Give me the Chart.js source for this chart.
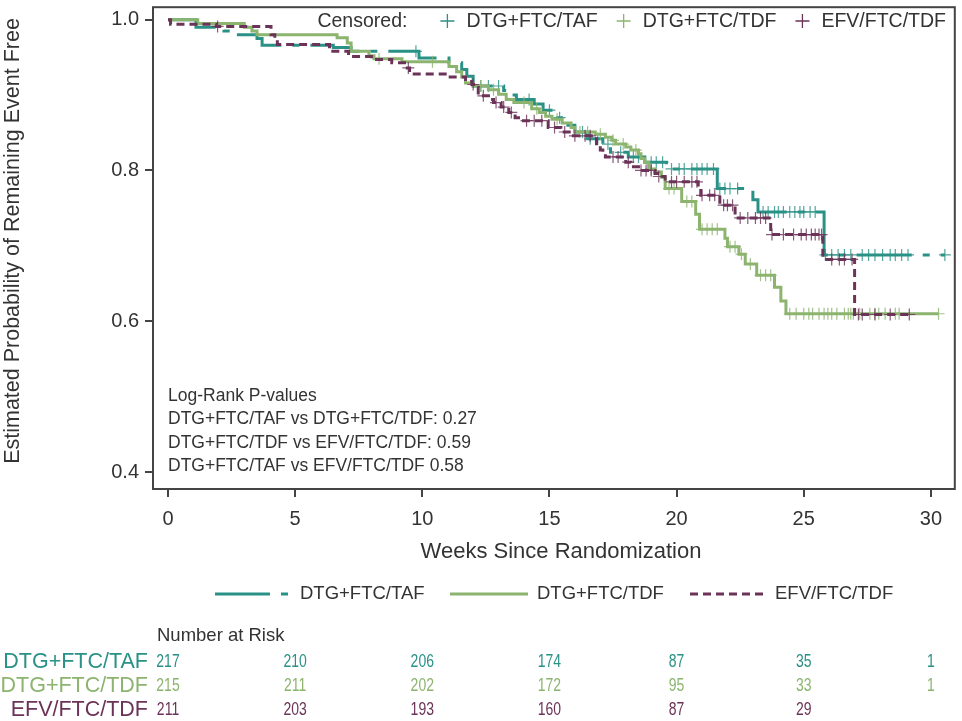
<!DOCTYPE html>
<html>
<head>
<meta charset="utf-8">
<script src="https://cdn.jsdelivr.net/npm/chart.js@4.4.0/dist/chart.umd.min.js"></script>
<style>
  html, body { margin: 0; padding: 0; background: #fff; }
  #wrap { width: 962px; height: 721px; position: relative; }
</style>
</head>
<body>
<div id="wrap"><canvas id="km"></canvas></div>
<script>
// groups + colours
const groups = ["DTG+FTC/TAF", "DTG+FTC/TDF", "EFV/FTC/TDF"];
const colors = ["#2a9186", "#8cb46f", "#6c3358"];

const weekTicks = [0, 5, 10, 15, 20, 25, 30];
const probTicks = [0.4, 0.6, 0.8, 1.0];

// KM steps (week, survival after the event)
const tafTimes = [0, 1.1, 2.2, 2.7, 3.5, 3.7, 6.5, 7.2, 9.87, 11.05, 11.55, 11.75, 12.0, 13.2, 13.5, 13.7, 14.4, 14.75, 15.15, 15.6, 16.0, 16.5, 17.1, 17.4, 18.1, 18.75, 19.6, 21.6, 23.0, 23.2, 25.8, 30.55];
const tafSurv  = [1.0, 0.990, 0.985, 0.980, 0.975, 0.966, 0.963, 0.958, 0.949, 0.943, 0.934, 0.925, 0.912, 0.906, 0.900, 0.894, 0.888, 0.880, 0.870, 0.860, 0.851, 0.842, 0.835, 0.824, 0.818, 0.811, 0.802, 0.776, 0.761, 0.745, 0.688, 0.688];

const tdfTimes = [0, 1.17, 3.0, 3.3, 3.5, 6.65, 7.05, 7.2, 7.9, 8.1, 9.2, 11.05, 11.35, 11.55, 11.7, 12.0, 12.6, 13.0, 13.3, 13.6, 14.3, 14.6, 14.85, 15.1, 15.5, 15.85, 16.0, 16.8, 17.2, 17.45, 17.6, 18.0, 18.2, 18.5, 18.6, 18.75, 18.9, 19.15, 19.4, 19.55, 20.2, 20.75, 20.9, 21.9, 22.0, 22.45, 22.7, 23.15, 23.85, 24.1, 24.3, 30.3];
const tdfSurv  = [1.0, 0.995, 0.990, 0.985, 0.980, 0.976, 0.969, 0.958, 0.952, 0.948, 0.944, 0.938, 0.931, 0.924, 0.916, 0.912, 0.907, 0.901, 0.894, 0.890, 0.882, 0.877, 0.872, 0.868, 0.863, 0.857, 0.851, 0.848, 0.844, 0.840, 0.835, 0.831, 0.827, 0.822, 0.816, 0.811, 0.802, 0.798, 0.791, 0.776, 0.759, 0.742, 0.722, 0.710, 0.699, 0.689, 0.676, 0.661, 0.645, 0.627, 0.610, 0.610];

const efvTimes = [0, 0.1, 1.9, 4.05, 4.2, 4.3, 6.35, 7.1, 8.0, 8.8, 9.3, 9.5, 10.9, 11.7, 11.95, 12.1, 12.2, 12.6, 12.8, 13.1, 13.4, 13.65, 13.9, 14.95, 15.45, 15.85, 16.85, 17.0, 17.1, 17.2, 18.0, 18.2, 18.5, 19.15, 19.25, 19.55, 20.85, 20.95, 21.7, 22.3, 23.7, 25.75, 27.0, 29.2];
const efvSurv  = [1.0, 0.994, 0.991, 0.980, 0.973, 0.967, 0.958, 0.951, 0.947, 0.943, 0.936, 0.928, 0.924, 0.918, 0.914, 0.910, 0.899, 0.894, 0.890, 0.884, 0.877, 0.870, 0.866, 0.857, 0.851, 0.846, 0.833, 0.827, 0.822, 0.818, 0.811, 0.805, 0.800, 0.796, 0.792, 0.785, 0.776, 0.767, 0.754, 0.737, 0.715, 0.682, 0.609, 0.609];

// censoring times (weeks)
const tafCens = [9.75, 12.3, 12.6, 13.0, 14.2, 15.0, 15.4, 16.3, 16.6, 16.9, 17.3, 17.8, 18.3, 18.5, 19.0, 19.2, 19.45, 19.8, 20.1, 20.3, 20.6, 20.8, 21.0, 21.2, 21.45, 21.7, 21.9, 22.1, 22.4, 23.4, 23.6, 23.85, 24.0, 24.2, 24.45, 24.65, 24.85, 25.0, 25.25, 25.45, 25.85, 26.1, 26.35, 26.6, 26.85, 27.3, 27.55, 27.8, 28.1, 28.4, 28.6, 28.85, 29.1, 30.55];
const tdfCens = [8.3, 10.4, 12.3, 12.8, 14.0, 14.5, 15.3, 16.2, 16.5, 17.0, 17.5, 17.9, 18.4, 19.0, 19.7, 19.9, 20.4, 20.6, 21.0, 21.2, 21.4, 21.6, 22.1, 22.3, 22.55, 22.9, 23.3, 23.5, 23.7, 24.45, 24.7, 25.0, 25.2, 25.35, 25.6, 25.8, 25.95, 26.1, 26.3, 26.6, 26.75, 26.85, 26.95, 27.2, 27.6, 27.8, 27.95, 28.2, 28.6, 28.75, 30.3];
const efvCens = [1.95, 9.45, 12.0, 12.4, 12.9, 13.2, 13.5, 14.1, 14.4, 14.7, 15.2, 15.6, 16.0, 16.4, 16.6, 17.5, 17.7, 18.1, 18.6, 18.8, 19.0, 19.3, 19.8, 20.0, 20.3, 20.6, 20.8, 21.0, 21.3, 21.5, 21.85, 22.0, 22.2, 22.5, 22.8, 23.1, 23.3, 23.5, 23.75, 24.2, 24.6, 24.9, 25.1, 25.3, 25.45, 25.6, 25.7, 26.1, 26.4, 26.6, 26.9, 27.15, 27.3, 27.8, 28.4, 29.15];

// number at risk at weekTicks
const riskTAF = [217, 210, 206, 174, 87, 35, 1];
const riskTDF = [215, 211, 202, 172, 95, 33, 1];
const riskEFV = [211, 203, 193, 160, 87, 29, null];

const logRankLines = [
  "Log-Rank P-values",
  "DTG+FTC/TAF vs DTG+FTC/TDF: 0.27",
  "DTG+FTC/TDF vs EFV/FTC/TDF: 0.59",
  "DTG+FTC/TAF vs EFV/FTC/TDF 0.58"
];

const FONT = "'Liberation Sans', Arial, sans-serif";
const TXT = "#333";
const dashes = [[55, 11, 7, 11], [], [8, 5]];

function stepAt(times, surv, t) {
  let v = surv[0];
  for (let i = 0; i < times.length; i++) if (times[i] <= t) v = surv[i];
  return v;
}

const series = [
  { times: tafTimes, surv: tafSurv, cens: tafCens },
  { times: tdfTimes, surv: tdfSurv, cens: tdfCens },
  { times: efvTimes, surv: efvSurv, cens: efvCens }
];
const drawOrder = [2, 1, 0]; // lower order = on top

const datasets = [];
series.forEach((s, i) => {
  datasets.push({
    type: "line",
    label: groups[i],
    data: s.times.map((t, k) => ({ x: t, y: s.surv[k] })),
    borderColor: colors[i],
    borderWidth: 3,
    borderDash: dashes[i],
    stepped: true,
    pointRadius: 0,
    fill: false,
    order: drawOrder[i]
  });
  datasets.push({
    type: "scatter",
    label: groups[i] + " censored",
    data: s.cens.map(t => ({ x: t, y: stepAt(s.times, s.surv, t) })),
    pointStyle: "cross",
    pointRadius: 6,
    borderWidth: 1.2,
    borderColor: colors[i] + "d0",
    backgroundColor: colors[i],
    order: drawOrder[i]
  });
});

const decor = {
  id: "decor",
  beforeDraw(chart) {
    const c = chart.ctx;
    c.save(); c.fillStyle = "#fff"; c.fillRect(0, 0, chart.width, chart.height); c.restore();
  },
  afterDraw(chart) {
    const c = chart.ctx, a = chart.chartArea, xs = chart.scales.x;
    c.save();
    // frame
    c.strokeStyle = "#444"; c.lineWidth = 2;
    c.strokeRect(a.left, a.top, a.right - a.left, a.bottom - a.top);

    // axis titles (drawn by hand so they sit where the original does)
    c.font = "22px " + FONT; c.fillStyle = TXT; c.textAlign = "center"; c.textBaseline = "middle";
    c.fillText("Weeks Since Randomization", 561, 552);
    c.save();
    c.translate(13, 241); c.rotate(-Math.PI / 2);
    c.font = "21.5px " + FONT;
    c.fillText("Estimated Probability of Remaining Event Free", 0, 0);
    c.restore();

    // censored legend (inside plot, top) - laid out from the right edge
    c.font = "19.5px " + FONT; c.textAlign = "left";
    let x = 946;
    const plusX = [];
    for (let i = 2; i >= 0; i--) {
      const w = c.measureText(groups[i]).width;
      x -= w;
      c.fillStyle = TXT; c.fillText(groups[i], x, 22);
      plusX[i] = x - 19;
      x -= 19 + 26;
    }
    plusX.forEach((px, i) => {
      c.strokeStyle = colors[i]; c.lineWidth = 1.3;
      c.beginPath(); c.moveTo(px - 7, 21); c.lineTo(px + 7, 21); c.moveTo(px, 14); c.lineTo(px, 28); c.stroke();
    });
    c.fillStyle = TXT; c.textAlign = "right";
    c.fillText("Censored:", plusX[0] - 40, 22);
    c.textAlign = "left";

    // log-rank box text
    c.font = "17.5px " + FONT;
    logRankLines.forEach((s, i) => c.fillText(s, 168, 396 + i * 23.5));

    // bottom legend
    const ly = 594;
    const lx = [[215, 288, 300], [450, 528, 537], [690, 765, 775]];
    lx.forEach((p, i) => {
      c.strokeStyle = colors[i]; c.lineWidth = 3; c.setLineDash(dashes[i]);
      c.beginPath(); c.moveTo(p[0], ly); c.lineTo(p[1], ly); c.stroke();
      c.setLineDash([]);
      c.fillStyle = TXT; c.font = "18.5px " + FONT; c.fillText(groups[i], p[2], ly);
    });

    // number at risk
    c.font = "18.5px " + FONT; c.fillStyle = TXT;
    c.fillText("Number at Risk", 157, 636);
    const rows = [riskTAF, riskTDF, riskEFV];
    rows.forEach((r, i) => {
      const y = 662 + i * 24;
      c.fillStyle = colors[i];
      c.font = "21.5px " + FONT; c.textAlign = "right";
      c.fillText(groups[i], 148, y);
      c.font = "17.5px " + FONT; c.textAlign = "center";
      r.forEach((v, k) => {
        if (v == null) return;
        const px = xs.getPixelForValue(weekTicks[k]);
        c.save(); c.translate(px, y); c.scale(0.8, 1);
        c.fillText(String(v), 0, 0);
        c.restore();
      });
    });
    c.restore();
  }
};

new Chart(document.getElementById("km"), {
  data: { datasets },
  options: {
    responsive: true,
    maintainAspectRatio: false,
    animation: false,
    layout: { padding: { left: 0, right: 4, top: 4, bottom: 152 } },
    plugins: { legend: { display: false }, tooltip: { enabled: false } },
    scales: {
      x: {
        type: "linear",
        min: -0.59, max: 30.94,
        afterBuildTicks: s => { s.ticks = weekTicks.map(v => ({ value: v })); },
        afterFit: s => { s.height = 80; s.paddingLeft = 0; s.paddingRight = 0; },
        ticks: { color: TXT, font: { size: 20, family: FONT }, padding: 10, maxRotation: 0, autoSkip: false },
        grid: { display: true, drawOnChartArea: false, drawTicks: true, tickLength: 8, color: "#444", lineWidth: 2 },
        border: { display: false },
        title: { display: false }
      },
      y: {
        type: "linear",
        min: 0.3776, max: 1.0165,
        afterBuildTicks: s => { s.ticks = probTicks.map(v => ({ value: v })); },
        afterFit: s => { s.width = 153; s.paddingTop = 0; s.paddingBottom = 0; },
        ticks: { color: TXT, font: { size: 20, family: FONT }, padding: 6, callback: v => Number(v).toFixed(1) },
        grid: { display: true, drawOnChartArea: false, drawTicks: true, tickLength: 8, color: "#444", lineWidth: 2 },
        border: { display: false },
        title: { display: false }
      }
    }
  },
  plugins: [decor]
});
</script>
</body>
</html>
